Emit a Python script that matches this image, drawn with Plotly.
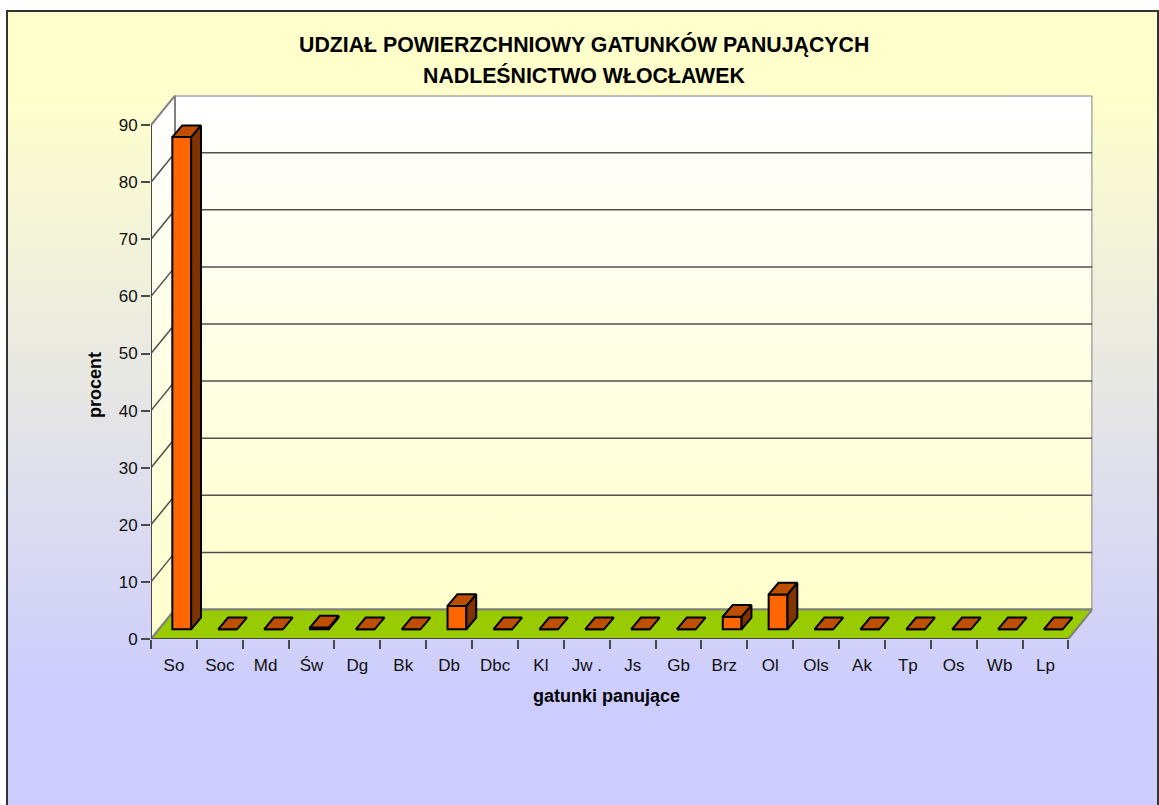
import plotly.graph_objects as go

categories = ["So", "Soc", "Md", "Św", "Dg", "Bk", "Db", "Dbc", "Kl", "Jw .", "Js", "Gb",
              "Brz", "Ol", "Ols", "Ak", "Tp", "Os", "Wb", "Lp"]
values = [86.2, 0, 0, 0.3, 0, 0, 4.1, 0, 0, 0, 0, 0, 2.2, 6.1, 0, 0, 0, 0, 0, 0]
y_ticks = [0, 10, 20, 30, 40, 50, 60, 70, 80, 90]

W, H = 1159, 805
X0_PX, Y0_PX = 151, 639          # front-left corner of the floor
CAT_PX, UNIT_PX = 45.87, 5.71    # pixels per category / per percent
DEPTH_X_PX, DEPTH_Y_PX = 24, 29.5

DX = DEPTH_X_PX / CAT_PX
DY = DEPTH_Y_PX / UNIT_PX
xmin = -0.5
xfront = xmin + len(categories)
xmax = xfront + DX
ymax = 90 + DY

BAR_W = 0.41
BAR_SHIFT = 0.17
BAR_BASE = 1.7
BAR_DX = 0.215
BAR_DY = 2.05

dom_x = [X0_PX / W, (X0_PX + CAT_PX * len(categories) + DEPTH_X_PX) / W]
dom_y = [(H - Y0_PX) / H, (H - Y0_PX + DEPTH_Y_PX + 90 * UNIT_PX) / H]

fig = go.Figure()

# chart-area background (own full-page axes)
fig.add_trace(go.Scatter(
    x=[7, 1158, 1158, 7, 7], y=[11, 11, 805, 805, 11], xaxis="x", yaxis="y",
    mode="lines", line=dict(width=0), fill="toself",
    fillgradient=dict(type="vertical", colorscale=[
        [0, "#CCCCFF"], [0.132, "#CCCCFF"], [0.51, "#E6E6E6"], [0.90, "#FFFFCC"], [1, "#FFFFCC"]]),
    hoverinfo="skip", showlegend=False))

# walls
wall_grad = dict(type="vertical", colorscale=[[0, "#FFFFCC"], [1, "#FFFFFF"]])
fig.add_trace(go.Scatter(
    x=[xmin + DX, xfront + DX, xfront + DX, xmin + DX, xmin + DX],
    y=[DY, DY, 90 + DY, 90 + DY, DY], xaxis="x2", yaxis="y2",
    mode="lines", line=dict(color="#808080", width=2), fill="toself",
    fillgradient=wall_grad, hoverinfo="skip", showlegend=False))
fig.add_trace(go.Scatter(
    x=[xmin, xmin + DX, xmin + DX, xmin, xmin],
    y=[0, DY, 90 + DY, 90, 0], xaxis="x2", yaxis="y2",
    mode="lines", line=dict(color="#808080", width=2), fill="toself",
    fillgradient=wall_grad, hoverinfo="skip", showlegend=False))

# gridlines (left wall diagonal + back wall)
gx, gy = [], []
for v in y_ticks[1:-1]:
    gx += [xmin, xmin + DX, xfront + DX, None]
    gy += [v, v + DY, v + DY, None]
fig.add_trace(go.Scatter(x=gx, y=gy, xaxis="x2", yaxis="y2", mode="lines",
                         line=dict(color="#505050", width=1.5),
                         hoverinfo="skip", showlegend=False))

# floor
fig.add_trace(go.Scatter(
    x=[xmin, xfront, xfront + DX, xmin + DX, xmin], y=[0, 0, DY, DY, 0],
    xaxis="x2", yaxis="y2", mode="lines", line=dict(color="#808080", width=2),
    fill="toself", fillcolor="#99CC00", hoverinfo="skip", showlegend=False))

# front axis lines
fig.add_trace(go.Scatter(x=[xmin, xmin, xfront], y=[90, 0, 0], xaxis="x2", yaxis="y2",
                         mode="lines", line=dict(color="#4A4A4A", width=2),
                         hoverinfo="skip", showlegend=False))

# bars: front faces
xs = list(range(len(categories)))
fig.add_trace(go.Bar(
    x=xs, y=values, base=BAR_BASE, width=BAR_W, offset=BAR_SHIFT - BAR_W / 2,
    xaxis="x3", yaxis="y3", marker=dict(color="#FF6600", line=dict(color="#000000", width=2)),
    hoverinfo="skip", showlegend=False))

# bars: side and top faces, derived from the values
sx, sy, tx, ty = [], [], [], []
for i, v in enumerate(values):
    l = i + BAR_SHIFT - BAR_W / 2
    r = l + BAR_W
    t = BAR_BASE + v
    if v > 0:
        sx += [r, r + BAR_DX, r + BAR_DX, r, r, None]
        sy += [BAR_BASE, BAR_BASE + BAR_DY, t + BAR_DY, t, BAR_BASE, None]
    tx += [l, r, r + BAR_DX, l + BAR_DX, l, None]
    ty += [t, t, t + BAR_DY, t + BAR_DY, t, None]
fig.add_trace(go.Scatter(x=sx, y=sy, xaxis="x3", yaxis="y3", mode="lines",
                         line=dict(color="#000000", width=2), fill="toself",
                         fillcolor="#7F3300", hoverinfo="skip", showlegend=False))
fig.add_trace(go.Scatter(x=tx, y=ty, xaxis="x3", yaxis="y3", mode="lines",
                         line=dict(color="#000000", width=2), fill="toself",
                         fillcolor="#BF4F00", hoverinfo="skip", showlegend=False))

FONT = "Liberation Sans, Arial, sans-serif"
tick_font = dict(family=FONT, size=17, color="#111111")

fig.update_layout(
    width=W, height=H, margin=dict(l=0, r=0, t=0, b=0), autosize=False,
    paper_bgcolor="#FFFFFF", plot_bgcolor="rgba(0,0,0,0)", showlegend=False, barmode="overlay",
    font=dict(family=FONT, color="#000000"),
    xaxis=dict(domain=[0, 1], range=[0, W], visible=False, fixedrange=True, automargin=False),
    yaxis=dict(domain=[0, 1], range=[H, 0], visible=False, fixedrange=True, automargin=False),
    xaxis2=dict(domain=dom_x, range=[xmin, xmax], anchor="y2", showgrid=False, zeroline=False,
                tickmode="array", tickvals=xs, ticktext=categories, automargin=False,
                ticks="outside", ticklen=11, tickcolor="rgba(0,0,0,0)",
                tickfont=tick_font, showline=False, fixedrange=True,
                minor=dict(tickmode="array",
                           tickvals=[xmin + k for k in range(len(categories) + 1)],
                           ticks="outside", ticklen=9, tickwidth=1.5, tickcolor="#4A4A4A",
                           showgrid=False)),
    yaxis2=dict(domain=dom_y, range=[0, ymax], anchor="x2", showgrid=False, zeroline=False,
                tickmode="array", tickvals=y_ticks, ticks="outside", ticklen=9, tickwidth=1.5,
                automargin=False, tickcolor="#4A4A4A", tickfont=tick_font, showline=False,
                fixedrange=True),
    xaxis3=dict(domain=dom_x, range=[xmin, xmax], anchor="y3", overlaying="x2", visible=False,
                fixedrange=True, automargin=False),
    yaxis3=dict(domain=dom_y, range=[0, ymax], anchor="x3", overlaying="y2", visible=False,
                fixedrange=True, automargin=False),
    shapes=[dict(type="rect", xref="paper", yref="paper", x0=7 / W, x1=1158 / W,
                 y0=-0.01, y1=(H - 11) / H, line=dict(color="#333333", width=2),
                 fillcolor="rgba(0,0,0,0)", layer="above")],
    annotations=[
        dict(text="<b>UDZIAŁ POWIERZCHNIOWY GATUNKÓW PANUJĄCYCH</b>", xref="paper", yref="paper",
             x=584 / W, y=(H - 45) / H, xanchor="center", yanchor="middle", showarrow=False,
             font=dict(family=FONT, size=21.3)),
        dict(text="<b>NADLEŚNICTWO WŁOCŁAWEK</b>", xref="paper", yref="paper",
             x=584 / W, y=(H - 76) / H, xanchor="center", yanchor="middle", showarrow=False,
             font=dict(family=FONT, size=21.3)),
        dict(text="<b>procent</b>", xref="paper", yref="paper", x=95 / W, y=(H - 385) / H,
             xanchor="center", yanchor="middle", showarrow=False, textangle=-90,
             font=dict(family=FONT, size=18)),
        dict(text="<b>gatunki panujące</b>", xref="paper", yref="paper", x=607 / W, y=(H - 696) / H,
             xanchor="center", yanchor="middle", showarrow=False, font=dict(family=FONT, size=18)),
    ],
)

fig.write_html("out.html", config={"displayModeBar": False, "responsive": False},
               post_script="document.body.style.margin='0';document.body.style.overflow='hidden';")
